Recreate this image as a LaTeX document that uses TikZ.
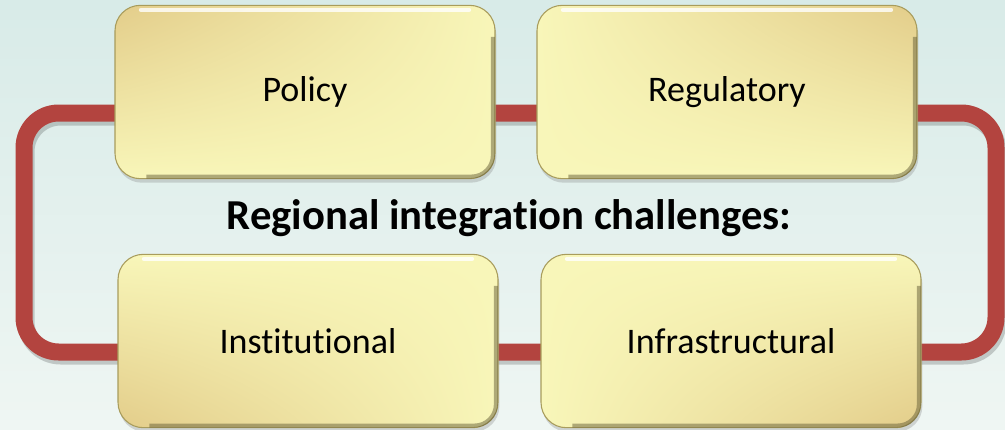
\documentclass[tikz,border=0pt]{standalone}
\usepackage{fontspec}
\setmainfont{Carlito}[Ligatures=NoCommon]
\usetikzlibrary{shadows,shadings}
\definecolor{bgtop}{HTML}{D8EBE8}
\definecolor{bgbot}{HTML}{EFF6F3}
\definecolor{framered}{HTML}{B3443F}
\definecolor{boxlight}{HTML}{F8F6B9}
\definecolor{boxdark}{HTML}{E3CD8A}
\definecolor{boxedge}{HTML}{A89C5C}
\tikzstyle{chal}=[rectangle,rounded corners=19pt,draw=boxedge,line width=.8pt,minimum width=285pt,minimum height=130pt,font=\fontsize{27}{32}\selectfont,drop shadow={shadow xshift=1pt,shadow yshift=-3pt,opacity=.3}]
\tikzstyle{bevel}=[boxedge!60!black,opacity=.5,line width=3pt,rounded corners=16pt]

\begin{document}
\begin{tikzpicture}[x=0.75pt,y=-0.75pt]
	\shade[top color=bgtop,bottom color=bgbot] (0,0) rectangle (1005,429);
	\useasboundingbox (0,0) rectangle (1005,429);

	% the red loop behind the boxes
	\draw[black,opacity=.18,line width=12.75pt,rounded corners=26pt] (26,117) rectangle (998,356);
	\draw[framered,line width=12.75pt,rounded corners=26pt] (24,113) rectangle (996,352);

	\node[chal,upper left=boxdark,upper right=boxlight,lower left=boxlight,lower right=boxlight] (pol) at (305,92) {Policy};
	\node[chal,upper left=boxlight,upper right=boxdark,lower left=boxlight,lower right=boxlight] (reg) at (727,92) {Regulatory};
	\node[chal,upper left=boxlight,upper right=boxlight,lower left=boxdark,lower right=boxlight] (ins) at (308,341) {Institutional};
	\node[chal,upper left=boxlight,upper right=boxlight,lower left=boxlight,lower right=boxdark] (inf) at (731,341) {Infrastructural};

	\node[font=\bfseries\fontsize{32}{38}\selectfont] (ttl) at (509,218) {Regional integration challenges:};

	% bevel look
	\foreach \n in {pol,reg,ins,inf} {
		\draw[white,opacity=.8,line width=3.5pt,line cap=round] ([xshift=20pt,yshift=-3.8pt]\n.north west) -- ([xshift=-20pt,yshift=-3.8pt]\n.north east);
		\draw[bevel] ([xshift=-2pt,yshift=-24pt]\n.north east) -- ([xshift=-2pt,yshift=2pt]\n.south east) -- ([xshift=24pt,yshift=2pt]\n.south west);
	}
\end{tikzpicture}
\end{document}
